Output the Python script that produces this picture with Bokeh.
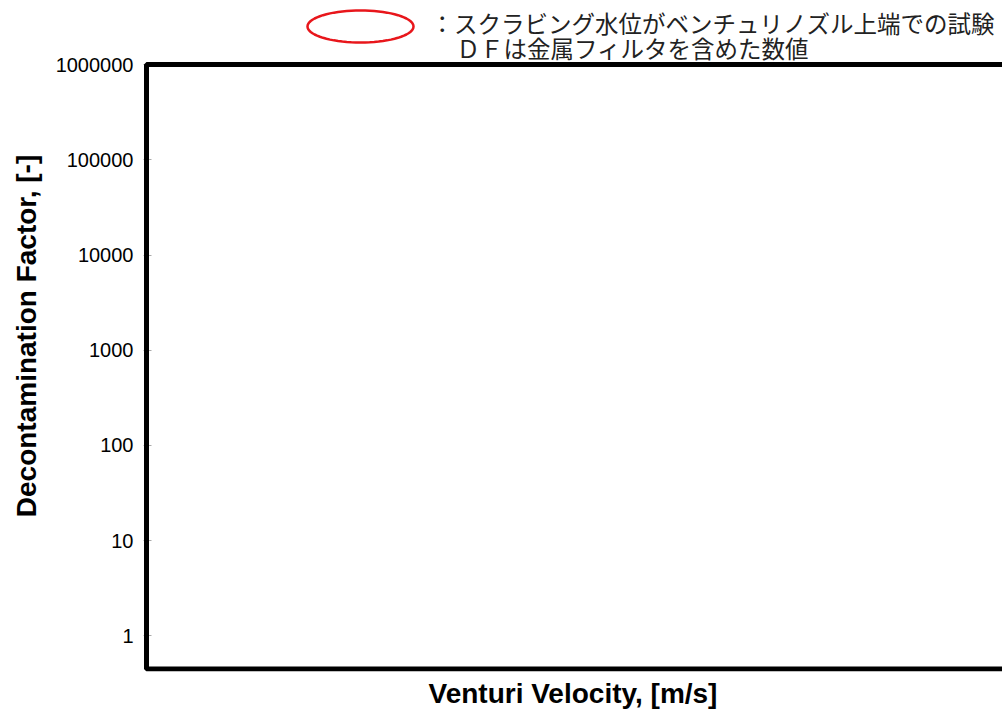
import numpy as np
from bokeh.plotting import figure
from bokeh.models import (Range1d, FixedTicker, NumeralTickFormatter,
                          Label, PolyAnnotation, BoxAnnotation, ColumnDataSource)
from bokeh.embed import file_html
from bokeh.resources import INLINE

# ---- data ----
velocity = []          # Venturi velocity [m/s] (no points drawn in the reference)
df_values = []         # decontamination factor [-]
x_ticks = [0, 50, 100, 150, 200, 250, 300]
y_ticks = [1, 10, 100, 1000, 10000, 100000, 1000000]
legend_line1 = "：スクラビング水位がベンチュリノズル上端での試験"
legend_line2 = "ＤＦは金属フィルタを含めた数値"

x_min, x_max = 0, 300
y_min, y_max = 0.4497, 1000000

p = figure(width=1002, height=711, output_backend="svg", toolbar_location=None,
           y_axis_type="log",
           x_range=Range1d(-1.05, 300), y_range=Range1d(0.4232, 4.71e6),
           min_border_left=143, min_border_top=0, min_border_right=0, min_border_bottom=10)
p.outline_line_color = None
p.xgrid.grid_line_color = None
p.ygrid.grid_line_color = None
p.background_fill_color = "white"
p.border_fill_color = "white"

src = ColumnDataSource(data=dict(x=velocity, y=df_values))
p.scatter("x", "y", source=src, size=8, fill_color=None, line_color="black")

# thick plot-area border (left, top, bottom; right edge lies beyond the page)
p.add_layout(BoxAnnotation(left=x_min, right=x_max + 30, bottom=y_min, top=y_max,
                           fill_color=None, fill_alpha=0,
                           line_color="black", line_alpha=1.0, line_width=5))

# y axis
ya = p.yaxis[0]
ya.ticker = FixedTicker(ticks=y_ticks)
ya.formatter = NumeralTickFormatter(format="0")
ya.minor_tick_line_color = None
ya.major_tick_in = 8
ya.major_tick_out = 0
ya.major_tick_line_color = "#aaaaaa"
ya.axis_line_color = None
ya.major_label_text_font = "Liberation Sans"
ya.major_label_text_font_size = "20px"
ya.major_label_text_color = "black"
ya.major_label_standoff = 10
ya.axis_label = "Decontamination Factor, [-]"
ya.axis_label_text_font = "Liberation Sans"
ya.axis_label_text_font_style = "bold"
ya.axis_label_text_font_size = "28px"
ya.axis_label_text_color = "black"
ya.axis_label_standoff = 11

# x axis
xa = p.xaxis[0]
xa.ticker = FixedTicker(ticks=x_ticks)
xa.major_label_overrides = {t: "" for t in x_ticks}
xa.major_label_text_font_size = "1px"
xa.major_label_standoff = 0
xa.minor_tick_line_color = None
xa.major_tick_line_color = None
xa.axis_line_color = None
xa.axis_label = "Venturi Velocity, [m/s]"
xa.axis_label_text_font = "Liberation Sans"
xa.axis_label_text_font_style = "bold"
xa.axis_label_text_font_size = "28px"
xa.axis_label_text_color = "black"
xa.axis_label_standoff = 0

# legend (ellipse + note text) above the plot area, in canvas pixels
t = np.linspace(0, 2 * np.pi, 73)
cx, cy, rx, ry = 360, 26, 53, 16
p.add_layout(PolyAnnotation(xs=list(cx + rx * np.cos(t)), ys=list(cy + ry * np.sin(t)),
                            xs_units="canvas", ys_units="canvas",
                            fill_color=None, fill_alpha=0,
                            line_color="#e8161b", line_alpha=1.0, line_width=2.5))
p.add_layout(Label(x=430, y=22, x_units="canvas", y_units="canvas", text=legend_line1,
                   text_font="Noto Sans CJK JP", text_font_size="23.5px",
                   text_baseline="middle", text_color="#222222"))
p.add_layout(Label(x=456, y=47, x_units="canvas", y_units="canvas", text=legend_line2,
                   text_font="Noto Sans CJK JP", text_font_size="23.5px",
                   text_baseline="middle", text_color="#222222"))

open("out.html", "w").write(file_html(p, INLINE))
